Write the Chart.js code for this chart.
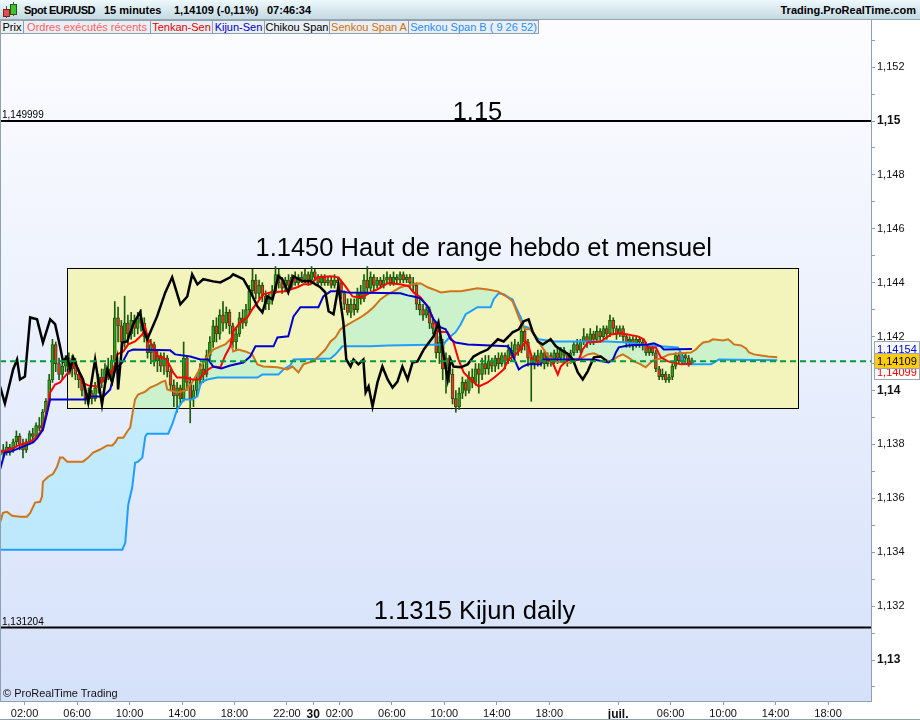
<!DOCTYPE html>
<html>
<head>
<meta charset="utf-8">
<script src="https://cdn.jsdelivr.net/npm/chart.js@4.4.1/dist/chart.umd.min.js"></script>
<style>
  body { margin:0; width:920px; height:720px; position:relative; overflow:hidden; background:#fff;
         font-family:"Liberation Sans", Arial, sans-serif; }
  #c { position:absolute; left:0; top:0; }
  #hdr { position:absolute; left:0; top:0; width:920px; height:20px; box-sizing:border-box;
         background:linear-gradient(#eef9fd, #c4d9e2); border-bottom:1px solid #94a6b2; }
  #hdr span { position:absolute; top:0; line-height:20px; font-size:11px; font-weight:bold; color:#000; white-space:nowrap; }
  #hdr i { position:absolute; display:block; }
  #leg span { position:absolute; top:20px; height:14px; line-height:13px; box-sizing:border-box;
              border:1px solid #8fa0ac; background:#e9eff4; font-size:11px; text-align:center;
              white-space:nowrap; overflow:hidden; }
  #copy { position:absolute; left:3px; top:687px; font-size:11px; color:#111; }
</style>
</head>
<body>
<canvas id="c" width="920" height="720"></canvas>
<div id="hdr">
  <i style="left:6px;top:6px;width:1px;height:12px;background:#555"></i>
  <i style="left:3px;top:9px;width:5px;height:6px;background:#e05050;border:1px solid #7a2020"></i>
  <i style="left:13px;top:2px;width:1px;height:14px;background:#555"></i>
  <i style="left:10px;top:4px;width:5px;height:9px;background:#44c030;border:1px solid #1c5e10"></i>
  <span style="left:24px;letter-spacing:-0.5px">Spot EUR/USD</span>
  <span style="left:104px">15 minutes</span>
  <span style="left:174px">1,14109 (-0,11%)</span>
  <span style="left:267px">07:46:34</span>
  <span style="right:4px">Trading.ProRealTime.com</span>
</div>
<div id="leg">
  <span style="left:0;width:24px;color:#000">Prix</span>
  <span style="left:23px;width:128px;color:#ff6060">Ordres exécutés récents</span>
  <span style="left:150px;width:63px;color:#e00000">Tenkan-Sen</span>
  <span style="left:212px;width:53px;color:#0000cc">Kijun-Sen</span>
  <span style="left:264px;width:66px;color:#000">Chikou Span</span>
  <span style="left:329px;width:80px;color:#d07010">Senkou Span A</span>
  <span style="left:408px;width:131px;color:#1e90ff">Senkou Span B ( 9 26 52)</span>
</div>
<div id="copy">© ProRealTime Trading</div>
<script>
const FONT = '"Liberation Sans", Arial, sans-serif';

// 15 minute bars, index 0 = first visible bar
const opens = [
  1.1376,1.1378,1.1377,1.1379,1.1378,1.1381,1.1383,1.1380,1.1378,1.1381,
  1.1384,1.1383,1.1387,1.1386,1.1392,1.1396,1.1404,1.1417,1.1410,1.1406,
  1.1409,1.1412,1.1408,1.1411,1.1406,1.1404,1.1400,1.1397,1.1399,1.1397,
  1.1401,1.1405,1.1403,1.1408,1.1406,1.1411,1.1427,1.1424,1.1418,1.1425,
  1.1421,1.1426,1.1423,1.1427,1.1425,1.1420,1.1414,1.1417,1.1411,1.1413,
  1.1409,1.1412,1.1407,1.1402,1.1398,1.1401,1.1397,1.1412,1.1403,1.1397,
  1.1400,1.1404,1.1408,1.1406,1.1413,1.1418,1.1424,1.1421,1.1428,1.1425,
  1.1429,1.1424,1.1418,1.1421,1.1427,1.1425,1.1430,1.1437,1.1441,1.1436,
  1.1439,1.1435,1.1432,1.1434,1.1437,1.1443,1.1440,1.1438,1.1441,1.1439,
  1.1442,1.1440,1.1442,1.1441,1.1443,1.1441,1.1444,1.1442,1.1440,1.1442,
  1.1440,1.1441,1.1439,1.1441,1.1440,1.1436,1.1432,1.1429,1.1432,1.1430,
  1.1436,1.1434,1.1441,1.1438,1.1442,1.1439,1.1441,1.1439,1.1441,1.1442,
  1.1440,1.1442,1.1441,1.1443,1.1441,1.1442,1.1440,1.1439,1.1432,1.1430,
  1.1428,1.1430,1.1425,1.1423,1.1414,1.1418,1.1408,1.1412,1.1406,1.1397,
  1.1394,1.1399,1.1403,1.1400,1.1405,1.1403,1.1408,1.1406,1.1410,1.1408,
  1.1411,1.1409,1.1412,1.1410,1.1413,1.1411,1.1415,1.1413,1.1417,1.1415,
  1.1422,1.1418,1.1412,1.1410,1.1413,1.1411,1.1414,1.1410,1.1413,1.1411,
  1.1414,1.1412,1.1415,1.1413,1.1411,1.1414,1.1417,1.1415,1.1418,1.1420,
  1.1418,1.1421,1.1419,1.1422,1.1420,1.1423,1.1421,1.1426,1.1423,1.1421,
  1.1423,1.1420,1.1418,1.1419,1.1417,1.1419,1.1418,1.1417,1.1414,1.1416,
  1.1414,1.1408,1.1405,1.1406,1.1404,1.1405,1.1409,1.1413,1.1411,1.1413,
  1.1412,1.1410
];
const highs = [
  1.1379,1.1380,1.1381,1.1380,1.1382,1.1385,1.1384,1.1382,1.1382,1.1385,
  1.1386,1.1388,1.1390,1.1393,1.1397,1.1406,1.1419,1.1418,1.1412,1.1411,
  1.1413,1.1414,1.1413,1.1412,1.1408,1.1405,1.1402,1.1401,1.1400,1.1403,
  1.1406,1.1408,1.1410,1.1412,1.1413,1.1433,1.1431,1.1426,1.1435,1.1428,
  1.1429,1.1428,1.1429,1.1430,1.1427,1.1421,1.1419,1.1418,1.1415,1.1414,
  1.1414,1.1413,1.1408,1.1404,1.1403,1.1402,1.1418,1.1413,1.1405,1.1402,
  1.1406,1.1410,1.1411,1.1415,1.1420,1.1426,1.1427,1.1430,1.1433,1.1431,
  1.1430,1.1425,1.1423,1.1429,1.1430,1.1432,1.1439,1.1445,1.1443,1.1441,
  1.1440,1.1437,1.1436,1.1439,1.1446,1.1445,1.1442,1.1442,1.1443,1.1443,
  1.1444,1.1443,1.1444,1.1445,1.1444,1.1446,1.1445,1.1443,1.1443,1.1443,
  1.1442,1.1442,1.1443,1.1442,1.1441,1.1437,1.1434,1.1434,1.1434,1.1438,
  1.1439,1.1443,1.1446,1.1444,1.1443,1.1442,1.1442,1.1443,1.1444,1.1443,
  1.1444,1.1443,1.1444,1.1444,1.1443,1.1443,1.1442,1.1440,1.1434,1.1432,
  1.1431,1.1431,1.1427,1.1424,1.1420,1.1419,1.1414,1.1413,1.1408,1.1400,
  1.1401,1.1405,1.1404,1.1407,1.1408,1.1410,1.1410,1.1412,1.1413,1.1413,
  1.1412,1.1413,1.1414,1.1414,1.1414,1.1417,1.1418,1.1419,1.1418,1.1426,
  1.1423,1.1419,1.1413,1.1414,1.1415,1.1415,1.1415,1.1414,1.1414,1.1415,
  1.1416,1.1416,1.1416,1.1414,1.1415,1.1418,1.1419,1.1419,1.1423,1.1421,
  1.1423,1.1422,1.1424,1.1423,1.1424,1.1424,1.1428,1.1427,1.1424,1.1424,
  1.1424,1.1421,1.1420,1.1420,1.1420,1.1420,1.1419,1.1418,1.1417,1.1417,
  1.1415,1.1409,1.1408,1.1407,1.1406,1.1410,1.1414,1.1414,1.1414,1.1414,
  1.1413,1.1412
];
const lows = [
  1.1375,1.1375,1.1376,1.1376,1.1377,1.1379,1.1378,1.1375,1.1377,1.1380,
  1.1381,1.1382,1.1385,1.1385,1.1390,1.1395,1.1403,1.1407,1.1404,1.1404,
  1.1407,1.1406,1.1405,1.1404,1.1401,1.1398,1.1395,1.1395,1.1395,1.1396,
  1.1399,1.1401,1.1402,1.1404,1.1405,1.1409,1.1418,1.1414,1.1416,1.1417,
  1.1419,1.1420,1.1421,1.1422,1.1418,1.1412,1.1410,1.1409,1.1407,1.1407,
  1.1406,1.1405,1.1400,1.1394,1.1392,1.1395,1.1396,1.1400,1.1388,1.1394,
  1.1398,1.1402,1.1403,1.1405,1.1411,1.1416,1.1418,1.1419,1.1422,1.1423,
  1.1421,1.1416,1.1415,1.1420,1.1423,1.1424,1.1428,1.1435,1.1434,1.1434,
  1.1433,1.1430,1.1430,1.1432,1.1436,1.1438,1.1436,1.1437,1.1437,1.1438,
  1.1439,1.1439,1.1440,1.1440,1.1439,1.1440,1.1441,1.1439,1.1439,1.1439,
  1.1439,1.1438,1.1438,1.1437,1.1434,1.1430,1.1428,1.1427,1.1428,1.1429,
  1.1432,1.1433,1.1436,1.1437,1.1437,1.1438,1.1438,1.1438,1.1440,1.1439,
  1.1439,1.1440,1.1440,1.1440,1.1440,1.1438,1.1437,1.1430,1.1428,1.1426,
  1.1427,1.1423,1.1421,1.1412,1.1410,1.1404,1.1399,1.1403,1.1395,1.1392,
  1.1393,1.1397,1.1398,1.1399,1.1401,1.1402,1.1399,1.1404,1.1406,1.1406,
  1.1407,1.1407,1.1408,1.1409,1.1408,1.1410,1.1411,1.1412,1.1413,1.1414,
  1.1415,1.1409,1.1396,1.1408,1.1409,1.1409,1.1408,1.1409,1.1409,1.1410,
  1.1410,1.1411,1.1411,1.1409,1.1410,1.1413,1.1414,1.1414,1.1417,1.1416,
  1.1417,1.1417,1.1418,1.1418,1.1419,1.1419,1.1420,1.1421,1.1419,1.1420,
  1.1418,1.1416,1.1416,1.1415,1.1416,1.1416,1.1415,1.1413,1.1413,1.1413,
  1.1407,1.1404,1.1404,1.1403,1.1403,1.1404,1.1408,1.1410,1.1410,1.1410,
  1.1409,1.1410
];
const closes = [
  1.1378,1.1377,1.1379,1.1378,1.1381,1.1383,1.1380,1.1378,1.1381,1.1384,
  1.1383,1.1387,1.1386,1.1392,1.1396,1.1404,1.1417,1.1410,1.1406,1.1409,
  1.1412,1.1408,1.1411,1.1406,1.1404,1.1400,1.1397,1.1399,1.1397,1.1401,
  1.1405,1.1403,1.1408,1.1406,1.1411,1.1427,1.1424,1.1418,1.1425,1.1421,
  1.1426,1.1423,1.1427,1.1425,1.1420,1.1414,1.1417,1.1411,1.1413,1.1409,
  1.1412,1.1407,1.1402,1.1398,1.1401,1.1397,1.1412,1.1403,1.1397,1.1400,
  1.1404,1.1408,1.1406,1.1413,1.1418,1.1424,1.1421,1.1428,1.1425,1.1429,
  1.1424,1.1418,1.1421,1.1427,1.1425,1.1430,1.1437,1.1441,1.1436,1.1439,
  1.1435,1.1432,1.1434,1.1437,1.1443,1.1440,1.1438,1.1441,1.1439,1.1442,
  1.1440,1.1442,1.1441,1.1443,1.1441,1.1444,1.1442,1.1440,1.1442,1.1440,
  1.1441,1.1439,1.1441,1.1440,1.1436,1.1432,1.1429,1.1432,1.1430,1.1436,
  1.1434,1.1441,1.1438,1.1442,1.1439,1.1441,1.1439,1.1441,1.1442,1.1440,
  1.1442,1.1441,1.1443,1.1441,1.1442,1.1440,1.1439,1.1432,1.1430,1.1428,
  1.1430,1.1425,1.1423,1.1414,1.1418,1.1408,1.1412,1.1406,1.1397,1.1394,
  1.1399,1.1403,1.1400,1.1405,1.1403,1.1408,1.1406,1.1410,1.1408,1.1411,
  1.1409,1.1412,1.1410,1.1413,1.1411,1.1415,1.1413,1.1417,1.1415,1.1422,
  1.1418,1.1412,1.1410,1.1413,1.1411,1.1414,1.1410,1.1413,1.1411,1.1414,
  1.1412,1.1415,1.1413,1.1411,1.1414,1.1417,1.1415,1.1418,1.1420,1.1418,
  1.1421,1.1419,1.1422,1.1420,1.1423,1.1421,1.1426,1.1423,1.1421,1.1423,
  1.1420,1.1418,1.1419,1.1417,1.1419,1.1418,1.1417,1.1414,1.1416,1.1414,
  1.1408,1.1405,1.1406,1.1404,1.1405,1.1409,1.1413,1.1411,1.1413,1.1412,
  1.1410,1.14109
];

// indicator lines as [bar, price] vertices
const tenkanSen = [
  [0,1.13773],[3.1,1.13781],[6.1,1.13799],[9.2,1.13810],[11.3,1.13829],[12.8,1.13855],[14.4,1.13929],
  [15.3,1.13993],[16.8,1.14022],[18.3,1.14030],[19.8,1.14052],[21.4,1.14078],[22.9,1.14104],[23.8,1.14078],
  [25.0,1.14030],[26.9,1.14019],[29.6,1.14015],[31.5,1.14041],[33.6,1.14059],[35.1,1.14097],[35.7,1.14134],
  [37.6,1.14145],[39.1,1.14171],[41.2,1.14182],[43.4,1.14208],[44.3,1.14234],[45.2,1.14190],[46.7,1.14164],
  [48.2,1.14126],[49.8,1.14123],[51.3,1.14104],[52.8,1.14067],[54.0,1.14048],[56.5,1.14048],[58.6,1.14041],
  [60.5,1.14041],[62.0,1.14059],[63.5,1.14078],[65.0,1.14089],[67.2,1.14086],[68.7,1.14130],[70.2,1.14164],
  [71.1,1.14219],[73.3,1.14253],[75.4,1.14271],[76.9,1.14301],[78.5,1.14327],[80.3,1.14357],[82.4,1.14364],
  [87.0,1.14368],[88.5,1.14375],[90.7,1.14383],[92.5,1.14394],[94.7,1.14394],[96.8,1.14420],[100.8,1.14424],
  [103.2,1.14420],[105.3,1.14387],[107.5,1.14349],[109.0,1.14346],[110.8,1.14349],[113.0,1.14364],[115.1,1.14375],
  [118.2,1.14398],[122.1,1.14394],[124.6,1.14387],[126.1,1.14364],[128.2,1.14346],[130.4,1.14312],[132.2,1.14264],
  [133.7,1.14219],[136.5,1.14216],[138.3,1.14178],[139.8,1.14115],[141.4,1.14067],[143.5,1.14041],[146.0,1.14015],
  [148.7,1.14030],[151.1,1.14052],[153.6,1.14078],[155.1,1.14115],[156.3,1.14126],[158.2,1.14145],[160.3,1.14182],
  [161.2,1.14164],[162.4,1.14115],[164.0,1.14104],[167.0,1.14115],[168.5,1.14104],[170.1,1.14059],[171.0,1.14089],
  [173.1,1.14115],[176.5,1.14115],[177.7,1.14152],[179.2,1.14178],[183.2,1.14182],[186.3,1.14208],[189.3,1.14212],
  [194.5,1.14201],[196.3,1.14190],[197.6,1.14160],[200.0,1.14160],[201.5,1.14123],[203.7,1.14108],[207.6,1.14097],
  [211,1.14099]
];
const kijunSen = [
  [0,1.13706],[1.5,1.13770],[3.1,1.13773],[7.0,1.13792],[10.1,1.13807],[11.3,1.13822],[13.1,1.13855],
  [14.4,1.13918],[15.3,1.13967],[26.0,1.13967],[26.6,1.13978],[31.5,1.13978],[33.6,1.14004],[35.1,1.14078],
  [37.3,1.14104],[39.1,1.14145],[40.6,1.14152],[51.9,1.14149],[53.4,1.14134],[58.0,1.14126],[61.1,1.14115],
  [63.5,1.14115],[65.0,1.14089],[67.5,1.14082],[70.2,1.14093],[74.2,1.14104],[76.3,1.14126],[77.9,1.14164],
  [83.4,1.14164],[84.6,1.14197],[87.9,1.14201],[89.5,1.14275],[91.6,1.14309],[97.1,1.14309],[98.6,1.14349],
  [100.8,1.14368],[103.8,1.14368],[106.0,1.14364],[122.1,1.14361],[124.3,1.14353],[126.1,1.14349],[128.2,1.14342],
  [130.4,1.14312],[132.2,1.14264],[134.4,1.14234],[135.9,1.14227],[137.4,1.14190],[138.9,1.14178],[142.6,1.14171],
  [154.8,1.14164],[155.7,1.14152],[156.6,1.14123],[158.2,1.14078],[159.4,1.14089],[160.9,1.14097],[164.9,1.14097],
  [165.8,1.14115],[181.1,1.14115],[184.1,1.14108],[185.6,1.14104],[186.9,1.14115],[187.8,1.14141],[188.7,1.14160],
  [191.5,1.14167],[197.6,1.14171],[199.4,1.14175],[201.5,1.14164],[202.4,1.14152],[211,1.14154]
];
const chikouSpan = [
  [0,1.14015],[1.5,1.13952],[4.0,1.14078],[5.2,1.14115],[6.1,1.14041],[7.6,1.14052],[9.2,1.14271],
  [11.3,1.14264],[13.1,1.14178],[15.3,1.14264],[16.8,1.14246],[18.3,1.14164],[19.2,1.14108],[20.5,1.14126],
  [21.4,1.14078],[22.3,1.14123],[23.8,1.14078],[25.3,1.14041],[26.9,1.13955],[29.0,1.14115],[31.1,1.13948],
  [32.7,1.14078],[34.2,1.14030],[35.7,1.14115],[36.0,1.14004],[37.3,1.14178],[38.8,1.14182],[40.6,1.14246],
  [42.7,1.14290],[43.7,1.14227],[44.9,1.14190],[47.9,1.14275],[50.4,1.14364],[52.5,1.14420],[55.0,1.14320],
  [57.1,1.14349],[58.6,1.14431],[60.2,1.14394],[62.0,1.14413],[65.0,1.14405],[67.2,1.14401],[70.2,1.14420],
  [71.1,1.14431],[74.2,1.14413],[76.3,1.14368],[78.5,1.14312],[80.0,1.14290],[81.5,1.14349],[83.1,1.14338],
  [84.9,1.14424],[86.1,1.14413],[87.9,1.14364],[89.5,1.14424],[92.2,1.14405],[94.7,1.14405],[97.7,1.14383],
  [99.2,1.14364],[100.2,1.14294],[101.7,1.14283],[103.2,1.14387],[104.7,1.14253],[105.6,1.14115],[106.9,1.14089],
  [107.8,1.14115],[109.3,1.14097],[110.8,1.14115],[111.5,1.13993],[112.4,1.14015],[113.6,1.13941],[115.1,1.14030],
  [116.6,1.14089],[118.2,1.14041],[119.7,1.14011],[121.2,1.14033],[122.7,1.14089],[124.3,1.14041],[125.8,1.14104],
  [127.3,1.14108],[129.2,1.14152],[132.2,1.14201],[133.7,1.14253],[135.0,1.14152],[136.5,1.14041],[137.4,1.14115],
  [138.3,1.14089],[140.5,1.14086],[142.6,1.14097],[144.4,1.14126],[146.6,1.14141],[148.7,1.14152],[151.8,1.14190],
  [153.6,1.14182],[156.3,1.14216],[158.2,1.14227],[159.7,1.14257],[161.2,1.14264],[162.4,1.14219],[164.0,1.14182],
  [165.5,1.14171],[167.9,1.14190],[169.5,1.14164],[171.9,1.14145],[173.4,1.14134],[174.7,1.14115],[176.2,1.14067],
  [177.7,1.14041],[179.2,1.14071],[181.1,1.14123],[183.2,1.14126],[185,1.14109]
];
const senkouA = [
  [0,1.13509],[0.9,1.13546],[2.1,1.13550],[3.7,1.13535],[6.1,1.13532],[8.2,1.13532],[9.2,1.13546],
  [10.7,1.13584],[12.2,1.13587],[12.8,1.13606],[13.1,1.13662],[14.7,1.13680],[16.2,1.13691],[17.4,1.13717],
  [18.3,1.13751],[19.2,1.13751],[20.5,1.13736],[25.3,1.13736],[26.9,1.13751],[28.4,1.13770],[30.5,1.13781],
  [32.7,1.13796],[34.2,1.13796],[35.1,1.13807],[36.0,1.13825],[37.6,1.13825],[38.8,1.13848],[39.7,1.13862],
  [40.6,1.13929],[41.2,1.13967],[42.1,1.13985],[44.3,1.13996],[45.8,1.14011],[47.9,1.14022],[49.5,1.14033],
  [50.4,1.14036],[51.0,1.14004],[54.0,1.13993],[56.5,1.14000],[58.6,1.14030],[60.5,1.14071],[62.0,1.14104],
  [63.2,1.14126],[65.0,1.14152],[67.2,1.14164],[68.7,1.14171],[70.2,1.14190],[71.1,1.14145],[72.7,1.14152],
  [74.8,1.14145],[76.9,1.14134],[78.5,1.14097],[80.3,1.14089],[84.6,1.14086],[87.6,1.14078],[89.2,1.14089],
  [91.0,1.14067],[92.5,1.14097],[95.3,1.14108],[97.1,1.14126],[99.2,1.14152],[100.8,1.14182],[102.3,1.14197],
  [103.8,1.14227],[104.7,1.14234],[106.3,1.14246],[107.8,1.14257],[109.9,1.14271],[112.1,1.14290],[113.9,1.14309],
  [116.0,1.14338],[118.2,1.14357],[120.0,1.14368],[122.1,1.14383],[124.3,1.14390],[126.1,1.14394],[128.2,1.14398],
  [130.4,1.14383],[132.2,1.14375],[134.4,1.14364],[137.4,1.14368],[140.5,1.14368],[143.5,1.14375],[145.6,1.14379],
  [148.7,1.14375],[151.8,1.14368],[153.3,1.14357],[154.8,1.14346],[156.3,1.14331],[157.3,1.14301],[158.2,1.14271],
  [159.4,1.14238],[160.3,1.14227],[161.8,1.14227],[163.4,1.14201],[164.3,1.14178],[165.8,1.14152],[167.3,1.14126],
  [169.5,1.14108],[171.9,1.14104],[174.0,1.14104],[176.2,1.14115],[177.7,1.14123],[179.2,1.14134],[181.1,1.14138],
  [183.2,1.14126],[184.7,1.14115],[185.6,1.14108],[187.2,1.14115],[188.4,1.14126],[189.9,1.14134],[191.5,1.14123],
  [193.3,1.14108],[195.4,1.14097],[196.9,1.14086],[199.1,1.14112],[201.5,1.14119],[204.0,1.14134],[207.6,1.14138],
  [210.7,1.14141],[212.2,1.14152],[213.1,1.14164],[214.4,1.14178],[216.2,1.14182],[217.4,1.14190],[220.5,1.14186],
  [222.0,1.14190],[222.9,1.14182],[223.8,1.14171],[226.0,1.14167],[227.5,1.14156],[228.4,1.14141],[229.9,1.14134],
  [232.1,1.14130],[234.2,1.14126],[237,1.14123]
];
const senkouB = [
  [0,1.13409],[37.3,1.13409],[38.2,1.13435],[39.1,1.13576],[40.3,1.13639],[41.2,1.13732],[42.1,1.13736],
  [43.4,1.13751],[44.3,1.13829],[44.9,1.13840],[51.3,1.13840],[52.5,1.13874],[54.0,1.13929],[55.6,1.13959],
  [55.9,1.13967],[58.6,1.13967],[60.2,1.13978],[61.1,1.14022],[61.7,1.14033],[63.2,1.14041],[66.3,1.14048],
  [78.5,1.14048],[80.0,1.14059],[84.9,1.14059],[86.4,1.14078],[88.5,1.14093],[89.5,1.14115],[100.8,1.14119],
  [102.3,1.14134],[104.4,1.14164],[113.0,1.14164],[118.2,1.14167],[135.3,1.14171],[135.9,1.14182],[137.4,1.14201],
  [138.9,1.14216],[140.5,1.14246],[142.0,1.14283],[143.5,1.14294],[145.6,1.14309],[149.6,1.14309],[150.5,1.14338],
  [152.1,1.14361],[153.6,1.14357],[155.1,1.14346],[156.3,1.14338],[157.3,1.14309],[158.8,1.14271],[159.7,1.14238],
  [160.9,1.14234],[161.8,1.14227],[162.7,1.14208],[164.3,1.14190],[168.9,1.14182],[185.3,1.14182],[191.5,1.14178],
  [195.4,1.14171],[201.5,1.14164],[206.7,1.14160],[207.6,1.14141],[208.2,1.14108],[209.2,1.14097],[216.8,1.14097],
  [218.3,1.14108],[219.2,1.14115],[237,1.14112]
];

// horizontal levels and the weekly/monthly range box
const lastPrice = 1.14109;
const levelHigh = 1.149999;
const levelLow = 1.131204;
const rangeHigh = 1.14455;
const rangeLow = 1.13935;
const rangeFromBar = 20.5;
const rangeToBar = 243.4;

const noteTexts = ['1.15', '1.1450 Haut de range hebdo et mensuel', '1.1315 Kijun daily'];
const noteBars = [145.6, 147.5, 144.7];
const notePrices = [levelHigh, rangeHigh, levelLow];

// axes
const visibleBars = 265.6;
const priceMin = 1.128479;
const priceMax = 1.153748;
const priceTicks = [1.129,1.13,1.131,1.132,1.133,1.134,1.135,1.136,1.137,1.138,1.139,1.14,1.141,
                    1.142,1.143,1.144,1.145,1.146,1.147,1.148,1.149,1.15,1.151,1.152,1.153];
const timeTickBars = [7.5, 23.5, 39.5, 55.5, 71.5, 87.5, 95.5, 103.5, 119.5, 135.5, 151.5, 167.5,
                      188.5, 204.5, 220.5, 236.5, 252.5];
const timeTickLabels = ['02:00','06:00','10:00','14:00','18:00','22:00','30','02:00','06:00','10:00',
                        '14:00','18:00','juil.','06:00','10:00','14:00','18:00'];
const boldTimeLabels = ['30', 'juil.'];

const toXY = pts => pts.map(([b, v]) => ({ x: b, y: v }));
const flat = v => [{ x: 0, y: v }, { x: visibleBars, y: v }];
const priceLabel = v => v.toFixed(3).replace(/0$/, '').replace('.', ',');

const decor = {
  id: 'decor',
  beforeDraw(chart) {
    const { ctx, chartArea: a } = chart;
    ctx.save();
    const g = ctx.createLinearGradient(0, a.top, 0, a.bottom);
    g.addColorStop(0, '#fdfdff');
    g.addColorStop(1, '#d5e1fa');
    ctx.fillStyle = g;
    ctx.fillRect(a.left, a.top, a.right - a.left, a.bottom - a.top);
    ctx.restore();
  },
  beforeDatasetsDraw(chart) {
    const { ctx, chartArea: a, scales: { x, y } } = chart;
    const x0 = x.getPixelForValue(rangeFromBar), x1 = x.getPixelForValue(rangeToBar);
    const y0 = y.getPixelForValue(rangeHigh), y1 = y.getPixelForValue(rangeLow);
    ctx.save();
    ctx.beginPath();
    ctx.rect(a.left, a.top, a.right - a.left, a.bottom - a.top);
    ctx.clip();
    ctx.fillStyle = '#f2f4bb';
    ctx.fillRect(x0, y0, x1 - x0, y1 - y0);
    // kumo between the two senkou spans
    ctx.beginPath();
    senkouA.forEach(([b, v], i) => {
      const px = x.getPixelForValue(b), py = y.getPixelForValue(v);
      if (i) ctx.lineTo(px, py); else ctx.moveTo(px, py);
    });
    for (let i = senkouB.length - 1; i >= 0; i--) {
      ctx.lineTo(x.getPixelForValue(senkouB[i][0]), y.getPixelForValue(senkouB[i][1]));
    }
    ctx.closePath();
    ctx.fillStyle = 'rgba(92,237,255,0.25)';
    ctx.fill();
    ctx.strokeStyle = '#000';
    ctx.lineWidth = 1;
    ctx.strokeRect(Math.round(x0) + 0.5, Math.round(y0) + 0.5, Math.round(x1 - x0), Math.round(y1 - y0));
    ctx.restore();
  },
  afterDatasetsDraw(chart) {
    const { ctx, scales: { x, y } } = chart;
    ctx.save();
    ctx.fillStyle = '#000';
    ctx.textAlign = 'center';
    ctx.textBaseline = 'alphabetic';
    ctx.font = '25.5px ' + FONT;
    const lift = [1, 12, 9];
    noteTexts.forEach((t, i) => {
      ctx.fillText(t, x.getPixelForValue(noteBars[i]), y.getPixelForValue(notePrices[i]) - lift[i]);
    });
    ctx.font = '10px ' + FONT;
    ctx.textAlign = 'left';
    [levelHigh, levelLow].forEach(v => {
      ctx.fillText(v.toFixed(6).replace('.', ','), 2, y.getPixelForValue(v) - 3);
    });
    ctx.restore();
  },
  afterDraw(chart) {
    const { ctx, chartArea: a, scales: { y } } = chart;
    ctx.save();
    ctx.font = '11px ' + FONT;
    ctx.textBaseline = 'middle';
    const tag = (cy, value, fill, color) => {
      ctx.fillStyle = fill;
      ctx.fillRect(874.5, cy - 7.5, 45, 15);
      ctx.strokeStyle = '#9aa6b0';
      ctx.lineWidth = 1;
      ctx.strokeRect(874.5, cy - 7.5, 45, 15);
      ctx.fillStyle = color;
      ctx.fillText(value.toFixed(5).replace('.', ','), 877, cy + 0.5);
    };
    const lastY = Math.round(y.getPixelForValue(lastPrice));
    tag(lastY + 11, 1.14099, '#ffffff', '#ff0000');
    tag(Math.round(y.getPixelForValue(1.14154)), 1.14154, '#f6f9fc', '#0000dd');
    tag(lastY, lastPrice, '#ffcc10', '#000000');
    ctx.strokeStyle = '#8fa0b0';
    ctx.beginPath();
    ctx.moveTo(0, 719.5); ctx.lineTo(920, 719.5);
    ctx.moveTo(0.5, a.top); ctx.lineTo(0.5, a.bottom);
    ctx.stroke();
    ctx.restore();
  }
};

const green = '#3a9a1c', red = '#ff2a2a', dark = '#1d5a0c';
const isBoldTime = c => boldTimeLabels.includes(timeTickLabels[c.index]);
const isBoldPrice = c => c.tick ? Math.round(c.tick.value * 1000) % 10 === 0 : false;

new Chart(document.getElementById('c'), {
  type: 'bar',
  data: {
    datasets: [
      { type: 'line', data: flat(lastPrice), borderColor: '#009a3e', borderWidth: 2, borderDash: [6, 4],
        pointRadius: 0, order: 1 },
      { type: 'line', data: flat(levelHigh), borderColor: '#000', borderWidth: 2, pointRadius: 0, order: 2 },
      { type: 'line', data: flat(levelLow), borderColor: '#000', borderWidth: 2, pointRadius: 0, order: 2 },
      { type: 'line', data: toXY(chikouSpan), borderColor: '#000', borderWidth: 2.5, pointRadius: 0, order: 3 },
      { type: 'line', data: toXY(kijunSen), borderColor: '#0000cc', borderWidth: 2, pointRadius: 0, order: 4 },
      { type: 'line', data: toXY(tenkanSen), borderColor: '#ff0000', borderWidth: 2, pointRadius: 0, order: 5 },
      { type: 'line', data: toXY(senkouA), borderColor: '#d0741a', borderWidth: 2, pointRadius: 0, order: 7 },
      { type: 'line', data: toXY(senkouB), borderColor: '#1e9eff', borderWidth: 2, pointRadius: 0, order: 8 },
      { data: closes.map((c, i) => ({ x: i, y: [opens[i], c] })), barThickness: 3, grouped: false,
        borderWidth: 1, borderColor: dark, borderSkipped: false, minBarLength: 1,
        backgroundColor: c => closes[c.dataIndex] >= opens[c.dataIndex] ? green : red, order: 19 },
      { data: highs.map((h, i) => ({ x: i, y: [lows[i], h] })), barThickness: 1, grouped: false,
        backgroundColor: dark, borderWidth: 0, order: 20 }
    ]
  },
  options: {
    responsive: false,
    animation: false,
    devicePixelRatio: 1,
    layout: { padding: { top: 20, left: 0, right: 0, bottom: 0 } },
    plugins: { legend: { display: false }, tooltip: { enabled: false } },
    elements: { line: { tension: 0 } },
    scales: {
      x: {
        type: 'linear', position: 'bottom', min: 0, max: visibleBars, offset: false, bounds: 'data',
        afterBuildTicks: s => { s.ticks = timeTickBars.map(v => ({ value: v })); },
        afterFit: s => { s.height = 19; },
        grid: { drawOnChartArea: false, offset: false, tickLength: 4, color: '#8fa0b0' },
        border: { display: true, color: '#8fa0b0' },
        ticks: {
          autoSkip: false, maxRotation: 0, padding: 2, color: '#111',
          font: c => ({ family: FONT, size: isBoldTime(c) ? 12 : 11, weight: isBoldTime(c) ? 'bold' : 'normal' }),
          callback: (v, i) => timeTickLabels[i]
        }
      },
      y: {
        type: 'linear', position: 'right', min: priceMin, max: priceMax, bounds: 'data',
        afterBuildTicks: s => { s.ticks = priceTicks.map(v => ({ value: v })); },
        afterFit: s => { s.width = 49; },
        grid: { drawOnChartArea: false, tickLength: 4, color: '#8fa0b0' },
        border: { display: true, color: '#8fa0b0' },
        ticks: {
          padding: 2, color: '#111',
          font: c => ({ family: FONT, size: isBoldPrice(c) ? 12 : 11, weight: isBoldPrice(c) ? 'bold' : 'normal' }),
          callback: v => (Math.round(v * 1000) % 2 ? '' : priceLabel(v))
        }
      }
    }
  },
  plugins: [decor]
});
</script>
</body>
</html>
